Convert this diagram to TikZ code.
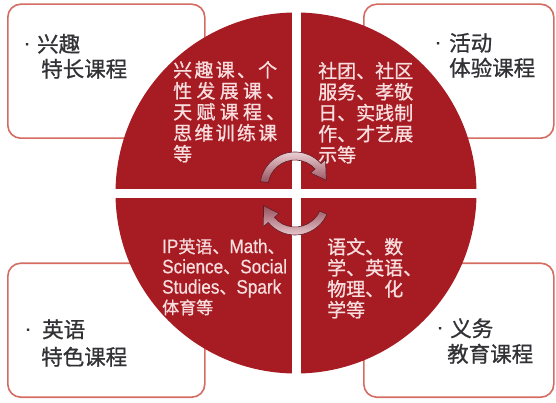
\documentclass[tikz,border=0pt]{standalone}
\usepackage{graphicx}
\usepackage{fontspec}
\setmainfont[FakeBold=0.9]{Noto Sans CJK SC}
\newfontfamily\latf[FakeBold=0.6]{Liberation Sans}
\usetikzlibrary{calc}
\definecolor{cred}{RGB}{167,27,35}
\definecolor{bord}{RGB}{212,108,98}
\definecolor{lbl}{RGB}{50,50,54}
\definecolor{inn}{RGB}{248,222,222}
\definecolor{arrl}{RGB}{242,218,222}
\definecolor{arrd}{RGB}{150,78,90}
\definecolor{arre}{RGB}{95,28,38}
\newcommand{\lt}[1]{\scalebox{0.88}[1]{\latf\fontsize{19.5}{20}\selectfont #1}}
\begin{document}
\begin{tikzpicture}[x=1pt,y=1pt,
  box/.style={draw=bord, line width=1.6pt, fill=white, rounded corners=13pt,
    inner sep=0pt, anchor=south west, minimum width=197pt, minimum height=134pt},
  innertxt/.style={text=inn, anchor=base west, inner sep=0pt, font=\fontsize{19}{21}\selectfont},
  innerbl/.style={text=inn, anchor=base west, inner sep=0pt, font=\fontsize{17}{20.3}\selectfont},
  lab/.style={text=lbl, anchor=base west, inner sep=0pt, font=\fontsize{21.5}{25}\selectfont},
  bul/.style={text=lbl, anchor=base, inner sep=0pt, font=\latf\fontsize{21}{21}\selectfont},
  arrowband/.style={draw=arre, line width=0.6pt}
]
\useasboundingbox (0,0) rectangle (556,402);
% boxes
\node[box] (boxtl) at (7,263) {};
\node[box, minimum width=190pt] (boxtr) at (363,263) {};
\node[box] (boxbl) at (7,4) {};
\node[box, minimum width=190pt] (boxbr) at (363,4) {};
% circle
\coordinate (c) at (296,209);
\fill[cred] (c) circle[radius=180.5pt];
\fill[white] (291.5,26) rectangle (300.5,392);
\fill[white] (112,204.5) rectangle (480,213.5);
% inner texts
\node[innertxt] (tltxt) at (173,325) {\parbox[t]{130pt}{%
\makebox[104pt][s]{兴\hfill 趣\hfill 课\hfill 、\hfill 个}\\
\makebox[112pt][s]{性\hfill 发\hfill 展\hfill 课\hfill 、}\\
\makebox[112pt][s]{天\hfill 赋\hfill 课\hfill 程\hfill 、}\\
\makebox[104pt][s]{思\hfill 维\hfill 训\hfill 练\hfill 课}\\
等}};
\node[innertxt] (trtxt) at (318,324) {\parbox[t]{110pt}{社团、社区\\服务、孝敬\\日、实践制\\作、才艺展\\示等}};
\node[innertxt] (brtxt) at (327,148) {\parbox[t]{110pt}{语文、数\\学、英语、\\物理、化\\学等}};
\node[innerbl] (bltxt) at (162,149) {\parbox[t]{140pt}{\lt{IP}英语、\lt{Math}、\\\lt{Science}、\lt{Social}\\\lt{Studies}、\lt{Spark}\\体育等}};
% labels
\node[bul] (tlb) at (27,352) {·};
\node[lab] (tll1) at (37,350) {兴趣};
\node[lab] (tll2) at (41,325) {特长课程};
\node[bul] (trb) at (438,353) {·};
\node[lab] (trl1) at (449,351) {活动};
\node[lab] (trl2) at (449,326) {体验课程};
\node[bul] (blb) at (28,66.5) {·};
\node[lab] (bll1) at (42,64.5) {英语};
\node[lab] (bll2) at (41,37) {特色课程};
\node[bul] (brb) at (440,68) {·};
\node[lab] (brl1) at (450,65.5) {义务};
\node[lab] (brl2) at (447,40) {教育课程};
% circular arrows
\coordinate (ct) at (295,215);
\coordinate (cb) at (295,202);
\shadedraw[arrowband, top color=arrl, bottom color=arrd]
  ($(ct)+(171:35pt)$) arc[start angle=171, end angle=42, radius=35pt]
  -- ($(ct)+(42:41pt)$) -- ($(ct)+(12:32pt)$) -- ($(ct)+(42:21pt)$)
  -- ($(ct)+(42:27pt)$) arc[start angle=42, end angle=171, radius=27pt] -- cycle;
\shadedraw[arrowband, top color=arrd, bottom color=arrl]
  ($(cb)+(336:35pt)$) arc[start angle=336, end angle=220, radius=35pt]
  -- ($(cb)+(220:41pt)$) -- ($(cb)+(190:32pt)$) -- ($(cb)+(220:21pt)$)
  -- ($(cb)+(220:27pt)$) arc[start angle=220, end angle=336, radius=27pt] -- cycle;
\end{tikzpicture}
\end{document}
